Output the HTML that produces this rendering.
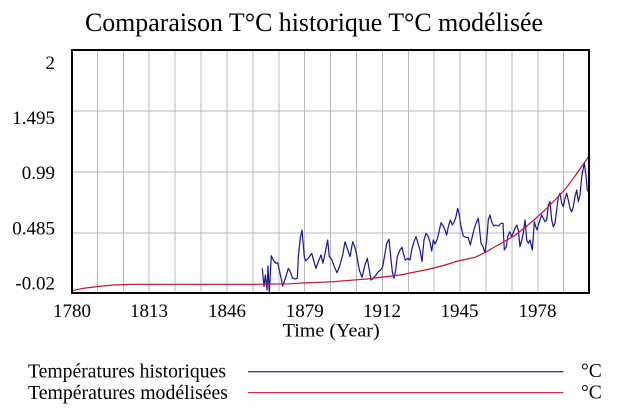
<!DOCTYPE html>
<html>
<head>
<meta charset="utf-8">
<style>
  html, body { margin: 0; padding: 0; background: #ffffff; }
  body { width: 618px; height: 418px; overflow: hidden; }
  svg { display: block; }
  text { font-family: "Liberation Serif", "DejaVu Serif", serif; fill: #000; }
</style>
</head>
<body>
<svg width="618" height="418" viewBox="0 0 618 418" xmlns="http://www.w3.org/2000/svg">
  <rect x="0" y="0" width="618" height="418" fill="#ffffff"/>

  <!-- Title -->
  <text x="85" y="31" font-size="26" textLength="458" lengthAdjust="spacingAndGlyphs">Comparaison T°C historique T°C modélisée</text>

  <!-- Grid -->
  <g stroke="#b8b8b8" stroke-width="1" shape-rendering="crispEdges">
    <line x1="97.4" y1="50" x2="97.4" y2="293"/>
    <line x1="123.3" y1="50" x2="123.3" y2="293"/>
    <line x1="149.2" y1="50" x2="149.2" y2="293"/>
    <line x1="175.1" y1="50" x2="175.1" y2="293"/>
    <line x1="201.0" y1="50" x2="201.0" y2="293"/>
    <line x1="227.0" y1="50" x2="227.0" y2="293"/>
    <line x1="252.9" y1="50" x2="252.9" y2="293"/>
    <line x1="278.8" y1="50" x2="278.8" y2="293"/>
    <line x1="304.7" y1="50" x2="304.7" y2="293"/>
    <line x1="330.6" y1="50" x2="330.6" y2="293"/>
    <line x1="356.5" y1="50" x2="356.5" y2="293"/>
    <line x1="382.4" y1="50" x2="382.4" y2="293"/>
    <line x1="408.3" y1="50" x2="408.3" y2="293"/>
    <line x1="434.2" y1="50" x2="434.2" y2="293"/>
    <line x1="460.1" y1="50" x2="460.1" y2="293"/>
    <line x1="486.0" y1="50" x2="486.0" y2="293"/>
    <line x1="511.9" y1="50" x2="511.9" y2="293"/>
    <line x1="537.8" y1="50" x2="537.8" y2="293"/>
    <line x1="563.7" y1="50" x2="563.7" y2="293"/>
    <line x1="71" y1="111" x2="590" y2="111"/>
    <line x1="71" y1="172" x2="590" y2="172"/>
    <line x1="71" y1="233" x2="590" y2="233"/>
  </g>

  <!-- Historical series -->
  <polyline fill="none" stroke="#1414a0" stroke-width="1.2" stroke-linejoin="round"
    points="262.3,268.3 264,286.7 265.3,275 267,290 268,266 269.3,293 271.3,255.7 273.7,260.7 276,263.3 277.7,262.7 280,273.3 282.7,286 285.7,277.3 288.3,268.3 290.3,271.7 292.3,277.7 295,279 297.3,278.3 298.3,256.7 300.3,238.3 302,230 304.3,256.7 305.7,261 308.3,258.3 311.7,253.3 314.3,262.7 316,268.3 318.3,261.7 321,255 323,263.3 325.7,250 327.7,240 329.3,256.7 331.7,259.3 334.3,266.7 337,272.7 340,265 342.7,255 345,241.7 347.3,248.3 350,256.7 352.7,241.7 354.7,246.7 356.7,255 359.3,270 362,277.3 365,265 367.3,258.3 369.3,270 371,280 373.3,278.3 376,275 378.3,271.7 380.7,270 382.7,266.7 385,253.3 386.7,243.3 389,239.3 390.7,256.7 392.3,271.7 394,278.3 395.7,270 397.3,256.7 400,250 402,247.3 403.3,253.3 405.3,260 408,258.3 410,260 411.7,250 414,241.7 416,236.7 418,243.3 420,250 422,261.7 424,240 426,233.3 428,236 430,242 431.7,251 433.3,240 435,244 437,240 439,231.7 441,222.7 443.3,226 445,230 446.7,235 448.3,226.7 450.3,220 452.3,225 454.3,221.7 456,216.7 457.7,208.3 459.3,215 461,226.7 463.3,236 465.7,237.3 468.3,237.7 470.3,245 472.3,236.7 474.3,228.3 476.7,221.7 478.3,218.3 479.3,226.7 481,243.3 483,246.7 485,252.7 486.7,240 488.3,220 490,215 491.7,221.7 493.7,226 495.7,225 498.3,226 501,223.3 503,223.3 504.3,250 506.3,246.7 507.7,236.7 509.7,231.7 511.7,236.7 514.3,230 516.7,225 518.3,230 520,246.7 521.7,240 523.3,233.3 525,220 526.7,240 528.3,243.3 530,240 532.3,250 533.3,236.7 534.3,221.7 535.7,226.7 537.3,230 538.3,225 540,220 541.7,215 543.3,218.3 545,221.7 546.7,220 548.3,205 550,201.7 551.7,220 553.3,226.7 555,223.3 556.7,210 558.3,196.7 560,193.3 561.7,203.3 563.3,206.7 565,198.3 566.7,193.3 568.3,200 570,208.3 571.7,211.7 573.3,206.7 575,196.7 576.7,190 578.3,201.7 580,195 581.7,176.7 583.3,168.3 584.3,163.3 585.7,173.3 587.3,190 588.3,191.7"/>

  <!-- Modelled series -->
  <polyline fill="none" stroke="#cc1030" stroke-width="1.2" stroke-linejoin="round"
    points="72,290.7 83,288.4 97,286.6 113,285 133,284.3 180,284.3 255,284.3 290,283.8 300,283.2 303,283 333,281.7 345,280.7 366.7,279 400,275 430,269 445,265 458,261 475,257.3 485,252.5 498,245 514,236 525,227.5 535,219 545,210 555,200 565,189.5 575,176 582,166 589,156"/>

  <!-- Frame -->
  <g fill="#000">
    <rect x="71" y="49" width="2" height="245"/>
    <rect x="588" y="49" width="2" height="245"/>
    <rect x="71" y="49" width="519" height="2"/>
    <rect x="71" y="292" width="519" height="2"/>
  </g>

  <!-- Y labels -->
  <g font-size="19" text-anchor="end">
    <text x="55" y="69">2</text>
    <text x="55" y="124">1.495</text>
    <text x="55" y="179.2">0.99</text>
    <text x="55" y="234.4">0.485</text>
    <text x="55" y="289.6">-0.02</text>
  </g>

  <!-- X labels -->
  <g font-size="19" text-anchor="middle">
    <text x="72" y="317">1780</text>
    <text x="149" y="317">1813</text>
    <text x="227" y="317">1846</text>
    <text x="304.7" y="317">1879</text>
    <text x="382" y="317">1912</text>
    <text x="459.5" y="317">1945</text>
    <text x="537.5" y="317">1978</text>
  </g>
  <text x="282.7" y="336.5" font-size="19" textLength="97" lengthAdjust="spacingAndGlyphs">Time (Year)</text>

  <!-- Legend -->
  <text x="28" y="377.3" font-size="19.5" textLength="198" lengthAdjust="spacingAndGlyphs">Températures historiques</text>
  <text x="28" y="398.8" font-size="19.5" textLength="200" lengthAdjust="spacingAndGlyphs">Températures modélisées</text>
  <line x1="248" y1="371.7" x2="563.5" y2="371.7" stroke="#1414a0" stroke-width="1.2"/>
  <line x1="248" y1="392.7" x2="563.5" y2="392.7" stroke="#cc1030" stroke-width="1.2"/>
  <text x="581" y="377" font-size="19.5">°C</text>
  <text x="581" y="398.5" font-size="19.5">°C</text>
</svg>
</body>
</html>
